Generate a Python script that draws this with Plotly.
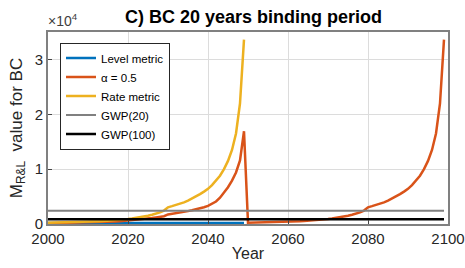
import plotly.graph_objects as go

years_a = list(range(2000, 2050))
years_b = list(range(2000, 2100))

level_metric = [200] * 50

rate_metric = [250, 260, 275, 290, 305, 320, 340, 360, 380, 400,
               420, 450, 480, 520, 560, 600, 650, 710, 770, 840,
               920, 1010, 1110, 1220, 1350, 1500, 1680, 1880, 2120, 2450,
               3050, 3250, 3450, 3700, 3950, 4250, 4600, 5000, 5450, 5900,
               6400, 7100, 7900, 8800, 10000, 11500, 13500, 16500, 22000, 33600]

alpha_05 = [150, 160, 170, 180, 190, 200, 210, 220, 235, 250,
            265, 280, 300, 320, 345, 370, 400, 440, 490, 550,
            620, 680, 740, 810, 890, 980, 1080, 1190, 1300, 1420,
            1750, 1850, 1950, 2050, 2200, 2350, 2500, 2650, 2850, 3050,
            3300, 3650, 4100, 4800, 5700, 6700, 7900, 9400, 11600, 16900,
            250, 260, 275, 290, 305, 320, 340, 360, 380, 400,
            420, 450, 480, 520, 560, 600, 650, 710, 770, 840,
            920, 1010, 1110, 1220, 1350, 1500, 1680, 1880, 2120, 2450,
            3050, 3250, 3450, 3700, 3950, 4250, 4600, 5000, 5450, 5900,
            6400, 7100, 7900, 8800, 10000, 11500, 13500, 16500, 22000, 33600]

gwp20 = 2400
gwp100 = 850

ytick_vals = [0, 10000, 20000, 30000]
ytick_text = ["0", "1", "2", "3"]
xtick_vals = [2000, 2020, 2040, 2060, 2080, 2100]

fig = go.Figure()
fig.add_trace(go.Scatter(x=years_a, y=level_metric, mode="lines", name="Level metric",
                         line=dict(color="#0072BD", width=2.5)))
fig.add_trace(go.Scatter(x=years_b, y=alpha_05, mode="lines", name="α = 0.5",
                         line=dict(color="#D95319", width=2.5)))
fig.add_trace(go.Scatter(x=years_a, y=rate_metric, mode="lines", name="Rate metric",
                         line=dict(color="#EDB120", width=2.5)))
fig.add_trace(go.Scatter(x=[years_b[0], years_b[-1]], y=[gwp20, gwp20], mode="lines", name="GWP(20)",
                         line=dict(color="#808080", width=2)))
fig.add_trace(go.Scatter(x=[years_b[0], years_b[-1]], y=[gwp100, gwp100], mode="lines", name="GWP(100)",
                         line=dict(color="#000000", width=2.5)))

font = "Liberation Sans, Arial, sans-serif"
fig.update_layout(
    width=465, height=268,
    margin=dict(l=48, r=17, t=32, b=44),
    paper_bgcolor="white", plot_bgcolor="white",
    font=dict(family=font, size=15, color="#262626"),
    title=dict(text="<b>C) BC 20 years binding period</b>", x=0.545, xanchor="center",
               y=0.936, yanchor="middle", font=dict(size=18, color="black")),
    showlegend=True,
    legend=dict(x=0.03, y=0.945, xanchor="left", yanchor="top",
                bgcolor="white", bordercolor="#262626", borderwidth=1,
                font=dict(size=11.5, color="black"), itemwidth=30,
                tracegroupgap=0, traceorder="normal"),
    xaxis=dict(range=[2000, 2100], tickvals=xtick_vals, ticks="inside", ticklen=4,
               automargin=False, ticklabeloverflow="allow",
               showgrid=True, gridcolor="#dcdcdc", gridwidth=1, zeroline=False,
               showline=True, linecolor="#808080", linewidth=2, mirror=True,
               tickfont=dict(size=15, color="#262626"),
               title=dict(text="Year", font=dict(size=16, color="#262626"), standoff=2)),
    yaxis=dict(range=[0, 35000], tickvals=ytick_vals, ticktext=ytick_text, ticks="inside", ticklen=4,
               automargin=False,
               showgrid=True, gridcolor="#dcdcdc", gridwidth=1, zeroline=False,
               showline=True, linecolor="#808080", linewidth=2, mirror=True,
               tickfont=dict(size=15, color="#262626"),
               title=dict(text="M<sub>R&L</sub>  value for BC", font=dict(size=17, color="#262626"), standoff=8)),
)
fig.add_annotation(text="×10<sup>4</sup>", xref="paper", yref="paper", x=-0.005, y=1.005,
                   xanchor="left", yanchor="bottom", showarrow=False,
                   font=dict(size=14, color="#404040", family=font))
fig.write_html("out.html", config={"displayModeBar": False},
               post_script="document.body.style.margin='0px';")
